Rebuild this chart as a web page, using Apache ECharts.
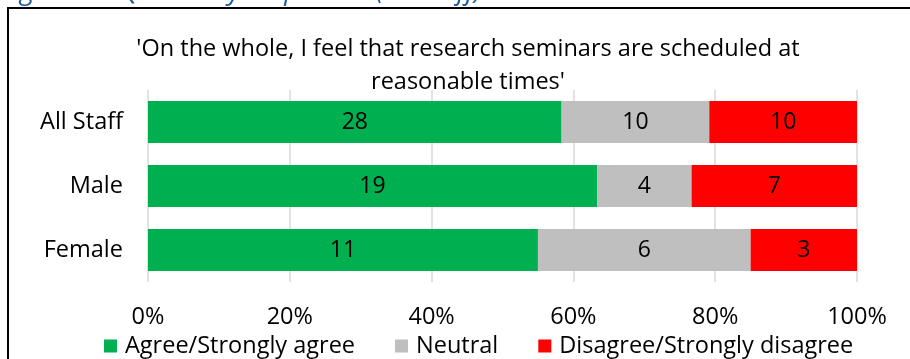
<!DOCTYPE html>
<html>
<head>
<meta charset="utf-8">
<script src="https://cdn.jsdelivr.net/npm/echarts@6/dist/echarts.min.js"></script>
<style>
  html, body { margin: 0; padding: 0; background: #fff; }
  #chart { width: 910px; height: 359px; }
</style>
</head>
<body>
<div id="chart"></div>
<script>
// Response counts per group
const groups = ['All Staff', 'Male', 'Female'];
const seriesNames = ['Agree/Strongly agree', 'Neutral', 'Disagree/Strongly disagree'];
const agree = [28, 19, 11];
const neutral = [10, 4, 6];
const disagree = [10, 7, 3];
const xTicks = ['0%', '20%', '40%', '60%', '80%', '100%'];
const colors = ['#00B050', '#BFBFBF', '#FF0000'];

const FONT = 'Open Sans';
const SIZE = 23.5;
const counts = [agree, neutral, disagree];
const totals = groups.map((_, i) => agree[i] + neutral[i] + disagree[i]);

// Each segment is drawn at its share of the group total; the label shows the count.
const series = seriesNames.map((name, s) => ({
  name: name,
  type: 'bar',
  stack: 'total',
  barCategoryGap: '34%',
  itemStyle: { color: colors[s] },
  label: {
    show: true,
    position: 'inside',
    color: '#000',
    fontFamily: FONT,
    fontSize: 23,
    formatter: p => String(counts[s][p.dataIndex])
  },
  data: groups.map((_, i) => counts[s][i] / totals[i] * 100)
}));

const chart = echarts.init(document.getElementById('chart'), null, { renderer: 'canvas' });
chart.setOption({
  animation: false,
  title: {
    text: "'On the whole, I feel that research seminars are scheduled at\nreasonable times'",
    left: 463,
    top: 28,
    textAlign: 'center',
    textStyle: {
      fontFamily: FONT,
      fontWeight: 'normal',
      fontSize: SIZE,
      lineHeight: 33,
      color: '#000'
    }
  },
  graphic: [
    {
      type: 'rect',
      shape: { x: 8, y: 8, width: 960, height: 400 },
      style: { fill: null, stroke: '#000', lineWidth: 2 },
      silent: true
    },
    {
      type: 'text',
      left: 0,
      top: -22,
      style: {
        text: 'Figure 11 Q5.Survey responses (all staff)',
        fontFamily: FONT,
        fontStyle: 'italic',
        fontSize: 27.5,
        fill: '#1F5D99'
      },
      silent: true
    }
  ],
  legend: {
    data: seriesNames,
    left: 99,
    top: 329,
    itemWidth: 13,
    itemHeight: 13,
    itemGap: 40,
    icon: 'rect',
    textStyle: { fontFamily: FONT, fontSize: SIZE, color: '#000', padding: [0, 0, 0, 3] }
  },
  grid: { left: 148, right: 53, top: 90, height: 192, containLabel: false },
  xAxis: {
    type: 'value',
    min: 0,
    max: 100,
    interval: 20,
    axisLine: { show: false },
    axisTick: { show: false },
    splitLine: { lineStyle: { color: '#D9D9D9', width: 1.5 } },
    axisLabel: {
      margin: 23,
      fontFamily: FONT,
      fontSize: SIZE,
      color: '#000',
      formatter: v => xTicks[Math.round(v / 20)]
    }
  },
  yAxis: {
    type: 'category',
    data: groups,
    inverse: true,
    axisLine: { show: false },
    axisTick: { show: false },
    axisLabel: { margin: 25, fontFamily: FONT, fontSize: SIZE, color: '#000' }
  },
  series: series
});
</script>
</body>
</html>
